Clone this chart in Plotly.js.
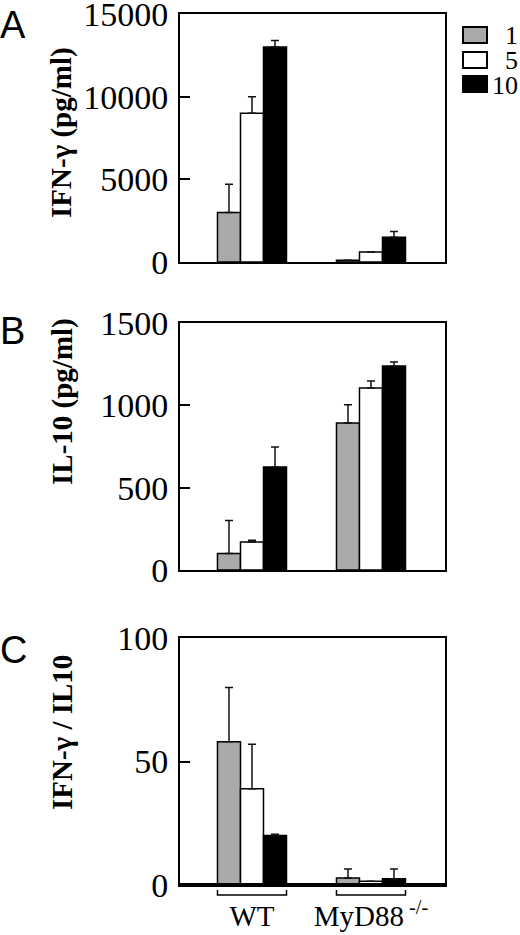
<!DOCTYPE html>
<html>
<head>
<meta charset="utf-8">
<script src="https://cdn.plot.ly/plotly-3.0.1.min.js"></script>
<style>
  html, body { margin: 0; padding: 0; background: #fff; }
  #chart { width: 520px; height: 935px; }
</style>
</head>
<body>
<div id="chart"></div>
<script>
// groups on the x axis, doses (legend) and fills
const groups = ['WT', 'MyD88<sup> -/-</sup>'];
const groupPos = [0, 1];
const doses = ['1', '5', '10'];
const doseFill = ['#a9a9a9', '#ffffff', '#000000'];

// one row per dose: [WT, MyD88-/-]
const ifnMean = [[3000, 100], [9000, 600], [13000, 1500]];
const ifnErr = [[1700, 0], [1000, 0], [400, 350]];

const il10Mean = [[100, 893], [170, 1105], [625, 1239]];
const il10Err = [[200, 110], [10, 43], [122, 24]];

const ratioMean = [[58, 2.8], [39, 1.5], [20, 2.5]];
const ratioErr = [[22, 3.7], [18, 0], [0.5, 4]];

const panelTitles = ['IFN-γ (pg/ml)', 'IL-10 (pg/ml)', 'IFN-γ / IL10'];
const panelTicks = [[0, 5000, 10000, 15000], [0, 500, 1000, 1500], [0, 50, 100]];
const panelRanges = [[0, 15000], [0, 1500], [0, 100]];

const serif = 'Liberation Serif, Times New Roman, serif';
const sans = 'Liberation Sans, Arial, sans-serif';
const BARGAP = 0.42;
const XRANGE = [-0.605, 1.622];

const W = 520, H = 935;
const px = (x) => x / W;
const py = (y) => 1 - y / H;

const boxes = [[14, 262], [323, 570], [638, 885]];

const traces = [];
const sets = [[ifnMean, ifnErr], [il10Mean, il10Err], [ratioMean, ratioErr]];
sets.forEach(([mean, err], p) => {
  const sfx = p === 0 ? '' : String(p + 1);
  doses.forEach((d, i) => {
    traces.push({
      type: 'bar',
      x: groupPos,
      y: mean[i],
      name: d,
      showlegend: false,
      xaxis: 'x' + sfx,
      yaxis: 'y' + sfx,
      marker: { color: doseFill[i], line: { color: '#000', width: 1.5 } },
      error_y: {
        type: 'data', symmetric: false, array: err[i], arrayminus: err[i].map(() => 0),
        color: '#111', thickness: 1.5, width: 4
      },
      hoverinfo: 'skip'
    });
  });
});

const layout = {
  width: W, height: H,
  margin: { l: 0, r: 0, t: 0, b: 0 },
  paper_bgcolor: '#fff', plot_bgcolor: '#fff',
  barmode: 'group', bargap: BARGAP, bargroupgap: 0,
  font: { family: serif, color: '#000' },
  showlegend: false,
  annotations: [],
  shapes: []
};

boxes.forEach(([top, bot], p) => {
  const sfx = p === 0 ? '' : String(p + 1);
  const last = p === 2;
  layout['xaxis' + sfx] = {
    domain: [px(180), px(445)], anchor: 'y' + sfx,
    range: XRANGE, fixedrange: true,
    showline: true, mirror: true, linecolor: '#000', linewidth: 2,
    showgrid: false, zeroline: false, ticks: '',
    tickmode: 'array', tickvals: groupPos, ticktext: groups,
    showticklabels: last, ticklabelstandoff: 4, ticklabeloverflow: 'allow',
    tickfont: { family: serif, size: 29, color: '#000' }
  };
  layout['yaxis' + sfx] = {
    domain: [py(bot), py(top)], anchor: 'x' + sfx,
    range: panelRanges[p], fixedrange: true,
    showline: true, mirror: true, linecolor: '#000', linewidth: 2,
    showgrid: false, zeroline: false,
    ticks: 'inside', ticklen: 10, tickwidth: 2, tickcolor: '#000',
    tickmode: 'array', tickvals: panelTicks[p], ticktext: panelTicks[p].map(String),
    ticklabelstandoff: 3, ticklabeloverflow: 'allow',
    tickfont: { family: serif, size: 34, color: '#000' }
  };
});

// rotated y titles sit a little above the box centres in the figure
const titleCentres = [133, 402, 733];
panelTitles.forEach((t, p) => {
  layout.annotations.push({
    text: '<b>' + t + '</b>', textangle: -90, showarrow: false,
    xref: 'paper', yref: 'paper', x: px(62), y: py(titleCentres[p]),
    xanchor: 'center', yanchor: 'middle',
    font: { family: serif, size: 29, color: '#000' }
  });
});

// panel letters
['A', 'B', 'C'].forEach((L, p) => {
  layout.annotations.push({
    text: L, showarrow: false, xref: 'paper', yref: 'paper',
    x: px(-2), y: py([2, 308, 627][p]), xanchor: 'left', yanchor: 'top',
    font: { family: sans, size: 38, color: '#000' }
  });
});

// dose key, top right: wide boxes with labels right-aligned at the edge
const keyRows = [35, 60, 84];
doses.forEach((d, i) => {
  layout.shapes.push({
    type: 'rect', xref: 'paper', yref: 'paper',
    x0: px(463), x1: px(487), y0: py(keyRows[i] - 8), y1: py(keyRows[i] + 8),
    fillcolor: doseFill[i], line: { color: '#000', width: 2 }
  });
  layout.annotations.push({
    text: d, showarrow: false, xref: 'paper', yref: 'paper',
    x: px(520), y: py(keyRows[i] + 1), xanchor: 'right', yanchor: 'middle',
    font: { family: serif, size: 26, color: '#000' }
  });
});

// thick zero line in panel C
layout.shapes.push({
  type: 'line', xref: 'x3 domain', yref: 'y3', x0: 0, x1: 1, y0: 0, y1: 0,
  line: { color: '#000', width: 4 }
});

// brackets under each group in panel C, spanning the bar group
const half = (1 - BARGAP) / 2;
groupPos.forEach((g) => {
  const path = `M${g - half},-0.02 L${g - half},-0.04 L${g + half},-0.04 L${g + half},-0.02`;
  layout.shapes.push({
    type: 'path', xref: 'x3', yref: 'y3 domain', path,
    line: { color: '#000', width: 1.5 }
  });
});

Plotly.newPlot('chart', traces, layout, { staticPlot: true, displayModeBar: false });
</script>
</body>
</html>
